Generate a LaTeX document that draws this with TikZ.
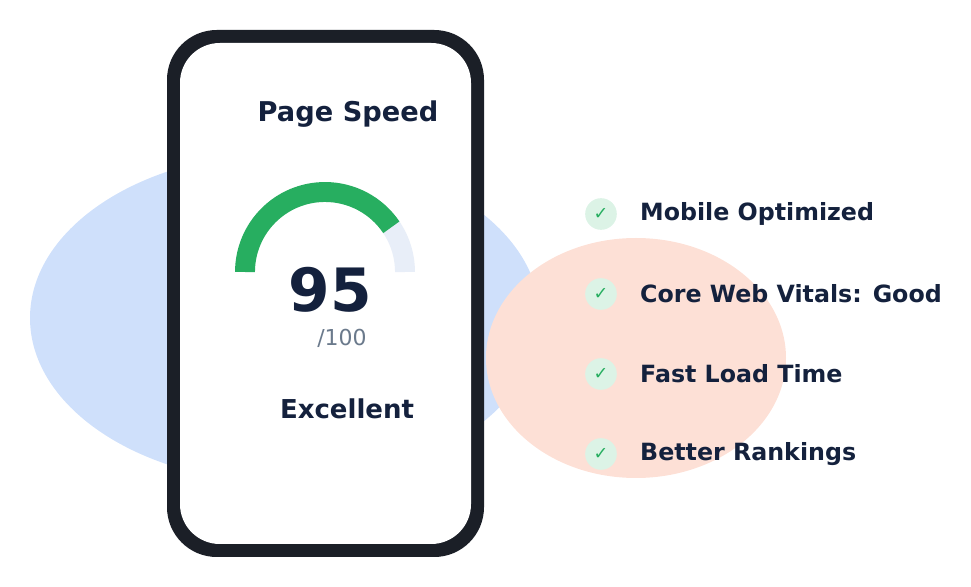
\documentclass[tikz,border=0pt]{standalone}
\usepackage{fontspec}
\setmainfont{DejaVu Sans}
\definecolor{navy}{HTML}{14213D}
\definecolor{bluebg}{HTML}{CFE0FB}
\definecolor{peach}{HTML}{FDE0D6}
\definecolor{phone}{HTML}{1B1F27}
\definecolor{gg}{HTML}{27AE60}
\definecolor{gl}{HTML}{E8EEF8}
\definecolor{cg}{HTML}{DCF3E6}
\definecolor{gray1}{HTML}{6B7A8C}
\begin{document}
\begin{tikzpicture}[x=0.02cm,y=-0.02cm,
  lbl/.style={anchor=west,font=\bfseries\fontsize{13.5}{15}\selectfont,text=navy},
  chk/.style={circle,fill=cg,minimum size=18pt,inner sep=0pt,text=gg,font=\fontsize{10}{12}\selectfont}]
\useasboundingbox (0,0) rectangle (971,587);
\fill[bluebg] (285,318) ellipse [x radius=255,y radius=165];
\fill[peach] (636,358) ellipse [x radius=150,y radius=120];
\fill[phone,rounded corners=50pt*0.567] (167,30) rectangle (484,557);
\fill[white,rounded corners=40pt*0.567] (180,43) rectangle (471,544);
\node[font=\bfseries\fontsize{15.5}{18}\selectfont,text=navy] (title) at (348,114) {Page Speed};
\coordinate (gc) at (325,272);
\draw[gl,line width=20*0.567pt] ([shift={(324:80)}]gc) arc[start angle=324,end angle=360,radius=80];
\draw[gg,line width=20*0.567pt] ([shift={(180:80)}]gc) arc[start angle=180,end angle=326,radius=80];
\node[font=\bfseries\fontsize{34}{40}\selectfont,text=navy] (score) at (330,290) {95};
\node[font=\fontsize{12.5}{14}\selectfont,text=gray1] (max) at (342,338) {/100};
\node[font=\bfseries\fontsize{14.8}{17}\selectfont,text=navy] (rating) at (347,409) {Excellent};
\foreach \y/\t/\n in {214/Mobile Optimized/a,294/Core Web Vitals: Good/b,374/Fast Load Time/c,454/Better Rankings/d}{
  \node[chk] (c\n) at (601,\y) {✓};
  \node[lbl] (l\n) at (634,\y) {\t};
}
\end{tikzpicture}
\end{document}
